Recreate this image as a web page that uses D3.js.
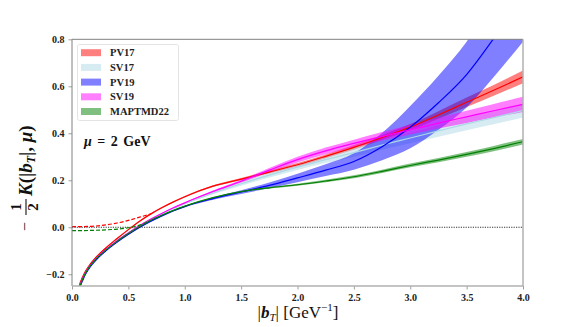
<!DOCTYPE html>
<html><head><meta charset="utf-8">
<script src="https://cdn.jsdelivr.net/npm/d3@7"></script>
<style>html,body{margin:0;padding:0;background:#fff;} svg{display:block;}</style>
</head><body>
<script>
// ---------- data ----------
const bT = [0.03,0.06,0.1,0.15,0.2,0.3,0.4,0.5,0.6,0.7,0.8,0.9,1.0,1.25,1.5,1.75,2.0,2.25,2.5,2.75,3.0,3.25,3.5,3.75,4.0];
const seriesNames = ["PV17","SV17","PV19","SV19","MAPTMD22"];
const PV17   = [-0.36,-0.26,-0.205,-0.165,-0.135,-0.088,-0.048,-0.01,0.026,0.057,0.084,0.108,0.13,0.175,0.205,0.235,0.266,0.302,0.34,0.382,0.426,0.478,0.532,0.585,0.64];
const PV17err= [0.003,0.003,0.003,0.003,0.003,0.003,0.003,0.003,0.003,0.003,0.003,0.003,0.003,0.004,0.005,0.006,0.007,0.008,0.01,0.011,0.013,0.016,0.02,0.023,0.027];
const SV17   = [-0.39,-0.275,-0.214,-0.172,-0.142,-0.097,-0.059,-0.026,0.005,0.032,0.057,0.08,0.1,0.145,0.185,0.222,0.256,0.288,0.318,0.35,0.38,0.41,0.44,0.468,0.497];
const SV17err= [0.003,0.003,0.003,0.003,0.003,0.003,0.003,0.003,0.003,0.003,0.003,0.003,0.003,0.005,0.008,0.01,0.012,0.015,0.018,0.02,0.022,0.025,0.027,0.029,0.03];
const PV19   = [-0.4,-0.28,-0.22,-0.176,-0.146,-0.1,-0.063,-0.03,0.0,0.026,0.049,0.07,0.088,0.122,0.15,0.178,0.21,0.243,0.28,0.343,0.426,0.53,0.65,0.81,0.98];
const PV19err= [0.003,0.003,0.003,0.003,0.003,0.003,0.003,0.003,0.003,0.003,0.003,0.003,0.003,0.005,0.008,0.012,0.018,0.025,0.035,0.058,0.09,0.115,0.14,0.165,0.19];
const SV19   = [-0.385,-0.272,-0.212,-0.17,-0.14,-0.095,-0.057,-0.024,0.007,0.035,0.06,0.083,0.104,0.152,0.196,0.243,0.288,0.325,0.357,0.387,0.415,0.443,0.47,0.497,0.523];
const SV19err= [0.002,0.002,0.002,0.002,0.002,0.002,0.002,0.002,0.002,0.002,0.002,0.002,0.002,0.004,0.006,0.009,0.012,0.014,0.016,0.018,0.02,0.023,0.026,0.029,0.032];
const MAP22  = [-0.39,-0.275,-0.215,-0.172,-0.142,-0.097,-0.06,-0.027,0.003,0.03,0.052,0.072,0.09,0.126,0.152,0.168,0.181,0.197,0.215,0.238,0.263,0.286,0.31,0.336,0.364];
const MAP22err=[0.002,0.002,0.002,0.002,0.002,0.002,0.002,0.002,0.002,0.002,0.002,0.002,0.002,0.002,0.002,0.003,0.004,0.005,0.006,0.007,0.008,0.009,0.01,0.011,0.012];
// dashed (small-b) curves
const bDash = [0,0.1,0.2,0.3,0.4,0.5,0.6,0.7];
const PV17dash  = [0.003,0.003,0.005,0.01,0.018,0.029,0.043,0.057];
const MAP22dash = [-0.014,-0.014,-0.013,-0.011,-0.008,-0.002,0.009,0.03];
const xTicks = [0,0.5,1,1.5,2,2.5,3,3.5,4];
const yTicks = [-0.2,0,0.2,0.4,0.6,0.8];

// ---------- layout ----------
const W=581,H=327;
const L=72,R=523,T=39.3,B=286;
const colors = {PV17:"#ff0000",SV17:"#add8e6",PV19:"#0000ff",SV19:"#ff00ff",MAPTMD22:"#008000"};
const seriesData = {PV17:[PV17,PV17err],SV17:[SV17,SV17err],PV19:[PV19,PV19err],SV19:[SV19,SV19err],MAPTMD22:[MAP22,MAP22err]};

const svg=d3.select("body").append("svg").attr("width",W).attr("height",H);
const x=d3.scaleLinear().domain([0,4]).range([L,R]);
const y=d3.scaleLinear().domain([-0.25,0.8]).range([B,T]);

svg.append("clipPath").attr("id","clip").append("rect").attr("x",L).attr("y",T).attr("width",R-L).attr("height",B-T);
const plot=svg.append("g").attr("clip-path","url(#clip)");

const area=d3.area().curve(d3.curveMonotoneX);
const line=d3.line().curve(d3.curveMonotoneX);

// zero line
plot.append("line").attr("x1",L).attr("x2",R).attr("y1",y(0)).attr("y2",y(0))
  .attr("stroke","#000").attr("stroke-width",0.8).attr("stroke-dasharray","1.2,1.2");

// bands
seriesNames.forEach(n=>{
  const [v,e]=seriesData[n];
  const pts=bT.map((b,i)=>[x(b),y(v[i]+e[i]),y(v[i]-e[i])]);
  plot.append("path").attr("d",area.x(d=>d[0]).y0(d=>d[2]).y1(d=>d[1])(pts))
    .attr("fill",colors[n]).attr("fill-opacity",0.5);
});
// lines
seriesNames.forEach(n=>{
  const [v]=seriesData[n];
  plot.append("path").attr("d",line(bT.map((b,i)=>[x(b),y(v[i])])))
    .attr("fill","none").attr("stroke",colors[n]).attr("stroke-width",1.2);
});
// dashed
[[PV17dash,colors.PV17],[MAP22dash,colors.MAPTMD22]].forEach(([v,c])=>{
  plot.append("path").attr("d",line(bDash.map((b,i)=>[x(b),y(v[i])])))
    .attr("fill","none").attr("stroke",c).attr("stroke-width",1.2).attr("stroke-dasharray","4,2");
});

// axes
const fontTick="'Liberation Serif', 'DejaVu Serif', serif";
const xa=d3.axisBottom(x).tickValues(xTicks).tickFormat(d3.format(".1f")).tickSize(3.5).tickPadding(4);
const ya=d3.axisLeft(y).tickValues(yTicks).tickFormat(d=>d<0?"\u2212"+d3.format(".1f")(-d):d3.format(".1f")(d)).tickSize(3.5).tickPadding(4);
const gx=svg.append("g").attr("transform",`translate(0,${B})`).call(xa);
const gy=svg.append("g").attr("transform",`translate(${L},0)`).call(ya);
[gx,gy].forEach(g=>{
  g.select(".domain").remove();
  g.selectAll(".tick line").attr("stroke","#888").attr("stroke-width",0.8);
  g.selectAll(".tick text").attr("font-family",fontTick).attr("font-weight","bold").attr("font-size",10).attr("fill","#222");
});
// spines
svg.append("line").attr("x1",L).attr("x2",R).attr("y1",T).attr("y2",T).attr("stroke","#808080").attr("stroke-width",1);
svg.append("line").attr("x1",L).attr("x2",L).attr("y1",T).attr("y2",B).attr("stroke","#808080").attr("stroke-width",1);
svg.append("line").attr("x1",R).attr("x2",R).attr("y1",T).attr("y2",B).attr("stroke","#b0b0b0").attr("stroke-width",1.5);
svg.append("line").attr("x1",L).attr("x2",R).attr("y1",B).attr("y2",B).attr("stroke","#b0b0b0").attr("stroke-width",1.5);

// legend
const lg=svg.append("g");
lg.append("rect").attr("x",77.5).attr("y",44.5).attr("width",101).attr("height",76).attr("rx",2)
  .attr("fill","#fff").attr("fill-opacity",0.8).attr("stroke","#ddd").attr("stroke-width",0.8);
seriesNames.forEach((n,i)=>{
  const yy=52.7+i*14.7;
  lg.append("rect").attr("x",81).attr("y",yy-3.5).attr("width",20).attr("height",7)
    .attr("fill",colors[n]).attr("fill-opacity",0.5);
  lg.append("text").attr("x",110).attr("y",yy+3.6).text(n)
    .attr("font-family",fontTick).attr("font-weight","bold").attr("font-size",10.5).attr("fill","#222");
});

// mu annotation
const mu=svg.append("text").attr("x",84).attr("y",146).attr("font-family",fontTick).attr("font-weight","bold").attr("font-size",14).attr("fill","#111");
mu.append("tspan").attr("font-style","italic").text("\u03bc");
mu.append("tspan").text(" = 2 GeV").attr("word-spacing",2);

// x label
const xl=svg.append("text").attr("x",298).attr("y",318).attr("text-anchor","middle")
  .attr("font-family",fontTick).attr("font-size",17).attr("fill","#111");
xl.append("tspan").text("|");
xl.append("tspan").attr("font-style","italic").attr("font-weight","bold").text("b");
xl.append("tspan").attr("font-style","italic").attr("font-size",11).attr("dy",3).text("T");
xl.append("tspan").attr("dy",-3).text("|  [GeV");
xl.append("tspan").attr("font-size",11).attr("dy",-7).text("\u22121");
xl.append("tspan").attr("dy",7).text("]");

// y label (rotated)
const yl=svg.append("g").attr("transform","translate(33,231) rotate(-90)")
  .attr("font-family",fontTick).attr("fill","#111");
yl.append("text").attr("x",0).attr("y",-3).attr("font-size",16).text("\u2212");
yl.append("text").attr("x",24).attr("y",-12).attr("text-anchor","middle").attr("font-size",15).attr("font-weight","bold").text("1");
yl.append("line").attr("x1",16).attr("x2",32).attr("y1",-7).attr("y2",-7).attr("stroke","#111").attr("stroke-width",1.1);
yl.append("text").attr("x",24).attr("y",5).attr("text-anchor","middle").attr("font-size",15).attr("font-weight","bold").text("2");
const yt=yl.append("text").attr("x",35).attr("y",-1).attr("font-size",19).attr("font-weight","bold");
yt.append("tspan").attr("font-style","italic").text("K");
yt.append("tspan").text("(|");
yt.append("tspan").attr("font-style","italic").text("b");
yt.append("tspan").attr("font-style","italic").attr("font-size",12).attr("dy",3).text("T");
yt.append("tspan").attr("dy",-3).text("|, ");
yt.append("tspan").attr("font-style","italic").text("\u03bc");
yt.append("tspan").text(")");
</script>
</body></html>
